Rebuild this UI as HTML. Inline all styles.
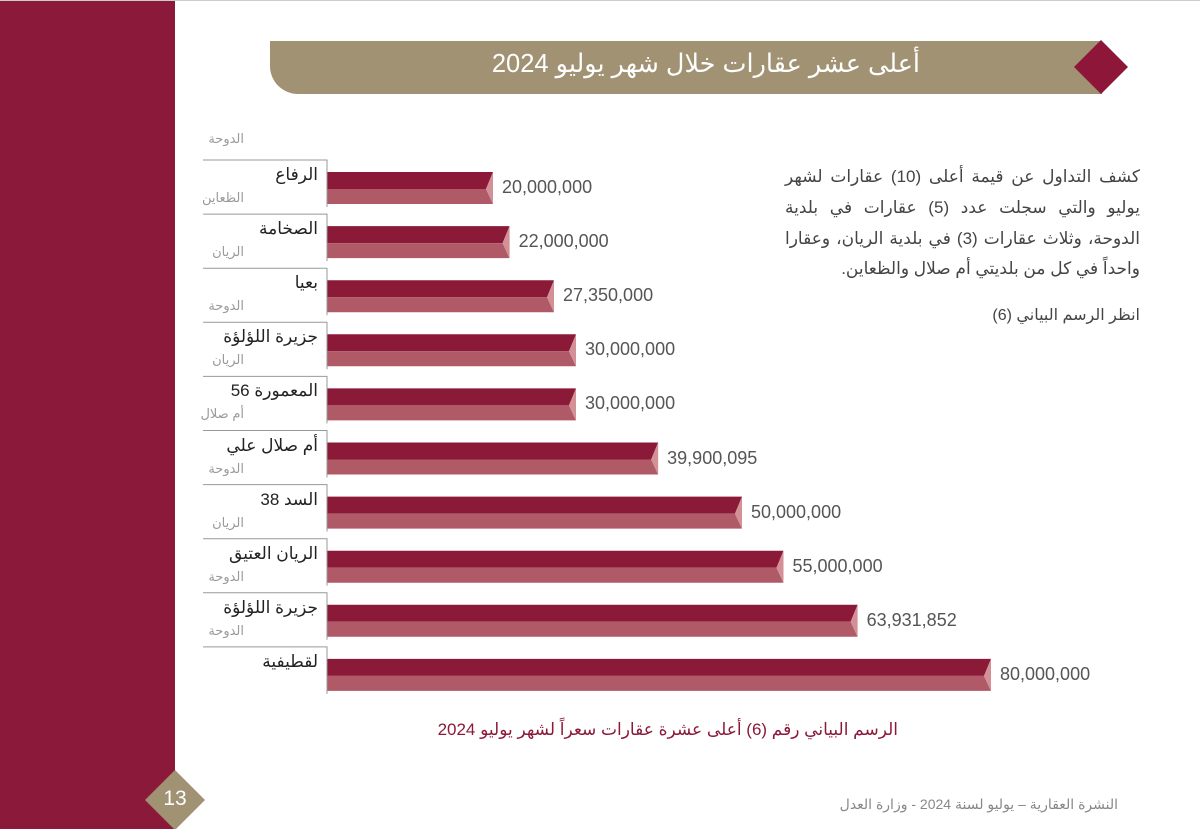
<!DOCTYPE html>
<html><head><meta charset="utf-8"><style>
body{margin:0;width:1200px;height:829px;position:relative;background:#fff;overflow:hidden;font-family:"Liberation Sans","Noto Sans CJK SC","DejaVu Sans",sans-serif}
.a{position:absolute;white-space:nowrap;direction:rtl}
.n{font-size:17px;color:#222;text-align:right}
.m{font-size:13px;color:#9a9a9a;text-align:right}
.v{position:absolute;font-size:18px;color:#555;white-space:nowrap}
.p{position:absolute;right:60px;width:355px;direction:rtl;font-size:17px;color:#444;text-align:justify;text-align-last:justify;white-space:nowrap}
</style></head><body>
<div style="position:absolute;left:0;top:0;width:1200px;height:1px;background:#ccc"></div>
<div style="position:absolute;left:0;top:1px;width:175px;height:828px;background:#8b1a3a"></div>
<svg style="position:absolute;left:0;top:0" width="1200" height="829">
<path d="M270 41 H1102 V94 H298 A28 28 0 0 1 270 66 Z" fill="#a19274"/>
<polygon points="1101,40 1128,67 1101,94 1074,67" fill="#8e1638"/>
<polygon points="175,770 205,800 175,830 145,800" fill="#a19274"/>
<g id="bars"></g>
</svg>
<div class="a" style="right:280px;top:49px;font-size:25.5px;color:#fff">أعلى عشر عقارات خلال شهر يوليو 2024</div>
<div style="position:absolute;left:161px;top:787px;width:28px;text-align:center;color:#fff;font-size:21px">13</div>
<div class="p" style="top:167px">كشف التداول عن قيمة أعلى (10) عقارات لشهر</div>
<div class="p" style="top:198px">يوليو والتي سجلت عدد (5) عقارات في بلدية</div>
<div class="p" style="top:229px">الدوحة، وثلاث عقارات (3) في بلدية الريان، وعقارا</div>
<div class="a" style="right:60px;top:259px;font-size:17px;color:#444">واحداً في كل من بلديتي أم صلال والظعاين.</div>
<div class="a" style="right:60px;top:305px;font-size:16px;color:#444">انظر الرسم البياني (6)</div>
<div class="a" style="right:302px;top:720px;font-size:17px;color:#8b1a3a">الرسم البياني رقم (6) أعلى عشرة عقارات سعراً لشهر يوليو 2024</div>
<div class="a" style="right:82px;top:796px;font-size:14px;color:#888">النشرة العقارية – يوليو لسنة 2024 - وزارة العدل</div>
<div id="lbl"></div>
<script>
var d=[["الرفاع","الظعاين",20000000,"20,000,000"],["الصخامة","الريان",22000000,"22,000,000"],["بعيا","الدوحة",27350000,"27,350,000"],["جزيرة اللؤلؤة","الريان",30000000,"30,000,000"],["المعمورة 56","أم صلال",30000000,"30,000,000"],["أم صلال علي","الدوحة",39900095,"39,900,095"],["السد 38","الريان",50000000,"50,000,000"],["الريان العتيق","الدوحة",55000000,"55,000,000"],["جزيرة اللؤلؤة","الدوحة",63931852,"63,931,852"],["لقطيفية","",80000000,"80,000,000"]];
var g="",h='<div class="a m" style="right:956px;top:131px">الدوحة</div>';
for(var i=0;i<d.length;i++){
var t=172+i*54.1,b=t+32,mid=t+17,x0=327,xe=x0+d[i][2]/80000000*664;
g+='<polygon points="'+x0+','+t+' '+xe+','+t+' '+(xe-7)+','+mid+' '+x0+','+mid+'" fill="#8b1a38"/>';
g+='<polygon points="'+x0+','+mid+' '+(xe-7)+','+mid+' '+xe+','+b+' '+x0+','+b+'" fill="#b05a68"/>';
g+='<polygon points="'+(xe-7)+','+mid+' '+xe+','+t+' '+xe+','+b+'" fill="#d39096"/>';
g+='<path d="M203 '+(t-12)+' H327 V'+(b+3)+'" fill="none" stroke="#999" stroke-width="1"/>';
h+='<div class="a n" style="right:882px;top:'+(t-7)+'px">'+d[i][0]+'</div>';
if(d[i][1])h+='<div class="a m" style="right:956px;top:'+(t+18)+'px">'+d[i][1]+'</div>';
h+='<div class="v" style="left:'+(xe+9)+'px;top:'+(t+5)+'px">'+d[i][3]+'</div>';
}
document.getElementById("bars").innerHTML=g;
document.getElementById("lbl").innerHTML=h;
</script>
</body></html>
